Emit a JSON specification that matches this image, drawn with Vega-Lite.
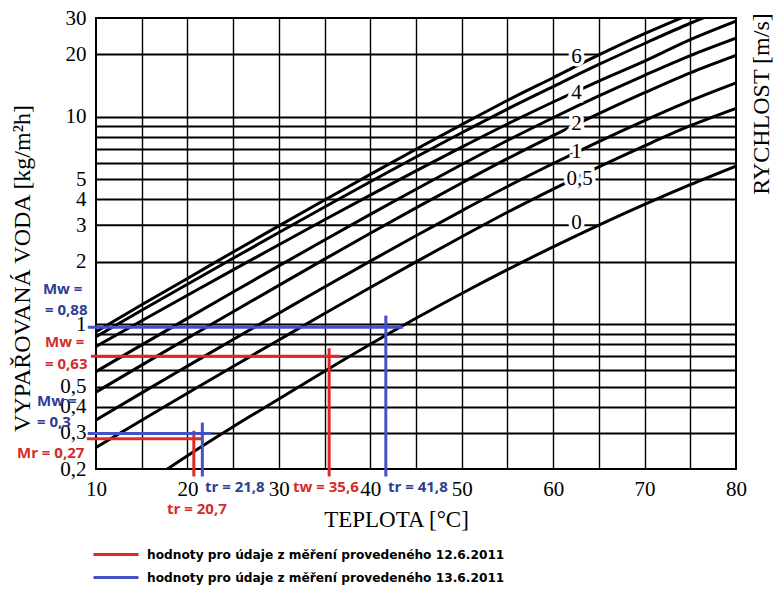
{
  "$schema": "https://vega.github.io/schema/vega-lite/v6.json",
  "width": 640,
  "height": 451,
  "autosize": {"type": "none"},
  "padding": {"left": 96, "top": 18, "right": 39, "bottom": 131},
  "background": "white",
  "config": {"view": {"stroke": "#000", "strokeWidth": 2}, "font": "Liberation Serif"},
  "datasets": {
    "curves": [
      {"c":"6","t":10,"v":0.92},{"c":"6","t":15,"v":1.24},{"c":"6","t":20,"v":1.66},{"c":"6","t":25,"v":2.23},{"c":"6","t":30,"v":2.98},{"c":"6","t":35,"v":3.97},{"c":"6","t":40,"v":5.28},{"c":"6","t":45,"v":6.98},{"c":"6","t":50,"v":9.18},{"c":"6","t":55,"v":12.0},{"c":"6","t":60,"v":15.45},{"c":"6","t":65,"v":19.9},{"c":"6","t":70,"v":25.2},{"c":"6","t":75,"v":31.3},{"c":"6","t":80,"v":38.5},
      {"c":"5","t":10,"v":0.87},{"c":"5","t":15,"v":1.166},{"c":"5","t":20,"v":1.558},{"c":"5","t":25,"v":2.078},{"c":"5","t":30,"v":2.766},{"c":"5","t":35,"v":3.673},{"c":"5","t":40,"v":4.861},{"c":"5","t":45,"v":6.4},{"c":"5","t":50,"v":8.385},{"c":"5","t":55,"v":10.91},{"c":"5","t":60,"v":14.0},{"c":"5","t":65,"v":17.9},{"c":"5","t":70,"v":22.6},{"c":"5","t":75,"v":28.3},{"c":"5","t":80,"v":34.6},
      {"c":"4","t":10,"v":0.78},{"c":"4","t":15,"v":1.038},{"c":"4","t":20,"v":1.379},{"c":"4","t":25,"v":1.827},{"c":"4","t":30,"v":2.416},{"c":"4","t":35,"v":3.188},{"c":"4","t":40,"v":4.193},{"c":"4","t":45,"v":5.489},{"c":"4","t":50,"v":7.145},{"c":"4","t":55,"v":9.24},{"c":"4","t":60,"v":11.8},{"c":"4","t":65,"v":14.89},{"c":"4","t":70,"v":18.58},{"c":"4","t":75,"v":23.6},{"c":"4","t":80,"v":29.0},
      {"c":"3","t":10,"v":0.59},{"c":"3","t":15,"v":0.794},{"c":"3","t":20,"v":1.066},{"c":"3","t":25,"v":1.429},{"c":"3","t":30,"v":1.91},{"c":"3","t":35,"v":2.546},{"c":"3","t":40,"v":3.384},{"c":"3","t":45,"v":4.476},{"c":"3","t":50,"v":5.889},{"c":"3","t":55,"v":7.69},{"c":"3","t":60,"v":9.907},{"c":"3","t":65,"v":12.62},{"c":"3","t":70,"v":15.88},{"c":"3","t":75,"v":19.77},{"c":"3","t":80,"v":24.0},
      {"c":"2","t":10,"v":0.47},{"c":"2","t":15,"v":0.634},{"c":"2","t":20,"v":0.855},{"c":"2","t":25,"v":1.148},{"c":"2","t":30,"v":1.539},{"c":"2","t":35,"v":2.058},{"c":"2","t":40,"v":2.743},{"c":"2","t":45,"v":3.639},{"c":"2","t":50,"v":4.8},{"c":"2","t":55,"v":6.284},{"c":"2","t":60,"v":8.12},{"c":"2","t":65,"v":10.36},{"c":"2","t":70,"v":13.08},{"c":"2","t":75,"v":16.31},{"c":"2","t":80,"v":19.8},
      {"c":"1","t":10,"v":0.345},{"c":"1","t":15,"v":0.466},{"c":"1","t":20,"v":0.627},{"c":"1","t":25,"v":0.843},{"c":"1","t":30,"v":1.129},{"c":"1","t":35,"v":1.511},{"c":"1","t":40,"v":2.014},{"c":"1","t":45,"v":2.671},{"c":"1","t":50,"v":3.522},{"c":"1","t":55,"v":4.613},{"c":"1","t":60,"v":5.959},{"c":"1","t":65,"v":7.605},{"c":"1","t":70,"v":9.596},{"c":"1","t":75,"v":11.97},{"c":"1","t":80,"v":14.6},
      {"c":"0,5","t":10,"v":0.254},{"c":"0,5","t":15,"v":0.344},{"c":"0,5","t":20,"v":0.464},{"c":"0,5","t":25,"v":0.625},{"c":"0,5","t":30,"v":0.839},{"c":"0,5","t":35,"v":1.125},{"c":"0,5","t":40,"v":1.503},{"c":"0,5","t":45,"v":1.998},{"c":"0,5","t":50,"v":2.641},{"c":"0,5","t":55,"v":3.467},{"c":"0,5","t":60,"v":4.486},{"c":"0,5","t":65,"v":5.739},{"c":"0,5","t":70,"v":7.254},{"c":"0,5","t":75,"v":9.065},{"c":"0,5","t":80,"v":11.0},
      {"c":"0","t":15,"v":0.165},{"c":"0","t":20,"v":0.232},{"c":"0","t":25,"v":0.32},{"c":"0","t":30,"v":0.435},{"c":"0","t":35,"v":0.593},{"c":"0","t":40,"v":0.8},{"c":"0","t":45,"v":1.067},{"c":"0","t":50,"v":1.406},{"c":"0","t":55,"v":1.832},{"c":"0","t":60,"v":2.36},{"c":"0","t":65,"v":3.006},{"c":"0","t":70,"v":3.784},{"c":"0","t":75,"v":4.71},{"c":"0","t":80,"v":5.79}
    ],
    "partialGrid": [
      {"v": 20, "t1": 10, "t2": 65.1},
      {"v": 3, "t1": 10, "t2": 65.1}
    ],
    "curveLabels": [
      {"lab": "6", "t": 62.55, "v": 19.5},
      {"lab": "4", "t": 62.55, "v": 13.1},
      {"lab": "2", "t": 62.55, "v": 9.23},
      {"lab": "1", "t": 62.55, "v": 6.8},
      {"lab": "0,5", "t": 62.9, "v": 5.0},
      {"lab": "0", "t": 62.55, "v": 3.09}
    ],
    "measure": [
      {"date": "12.6.2011", "t1": 9.45, "t2": 36.7, "v1": 0.7, "v2": 0.7},
      {"date": "12.6.2011", "t1": 35.5, "t2": 35.5, "v1": 0.765, "v2": 0.184},
      {"date": "12.6.2011", "t1": 9.0, "t2": 21.5, "v1": 0.28, "v2": 0.28},
      {"date": "12.6.2011", "t1": 20.7, "t2": 20.7, "v1": 0.306, "v2": 0.184},
      {"date": "13.6.2011", "t1": 9.1, "t2": 43.6, "v1": 0.967, "v2": 0.967},
      {"date": "13.6.2011", "t1": 41.7, "t2": 41.7, "v1": 1.1, "v2": 0.184},
      {"date": "13.6.2011", "t1": 9.1, "t2": 22.65, "v1": 0.297, "v2": 0.297},
      {"date": "13.6.2011", "t1": 21.63, "t2": 21.63, "v1": 0.335, "v2": 0.184}
    ],
    "notes": [
      {"date": "13.6.2011", "txt": "Mw =", "t": 4.2, "v": 1.479},
      {"date": "13.6.2011", "txt": "= 0,88", "t": 4.42, "v": 1.171},
      {"date": "12.6.2011", "txt": "Mw =", "t": 4.42, "v": 0.816},
      {"date": "12.6.2011", "txt": "= 0,63", "t": 4.42, "v": 0.643},
      {"date": "13.6.2011", "txt": "Mw =", "t": 3.55, "v": 0.426},
      {"date": "13.6.2011", "txt": "= 0,3", "t": 3.55, "v": 0.336},
      {"date": "12.6.2011", "txt": "Mr = 0,27", "t": 1.36, "v": 0.239},
      {"date": "13.6.2011", "txt": "tr = 21,8", "t": 21.92, "v": 0.163},
      {"date": "12.6.2011", "txt": "tw = 35,6", "t": 31.55, "v": 0.163},
      {"date": "13.6.2011", "txt": "tr = 41,8", "t": 41.94, "v": 0.163},
      {"date": "12.6.2011", "txt": "tr = 20,7", "t": 17.77, "v": 0.1284}
    ]
  },
  "resolve": {"axis": {"y": "independent"}},
  "layer": [
    {
      "data": {"name": "curves"},
      "mark": {"type": "line", "color": "#000", "strokeWidth": 3, "interpolate": "monotone", "clip": true},
      "encoding": {
        "x": {
          "field": "t", "type": "quantitative",
          "scale": {"domain": [10, 80], "nice": false, "zero": false},
          "axis": {
            "values": [10,15,20,25,30,35,40,45,50,55,60,65,70,75,80],
            "labelExpr": "datum.value % 10 === 0 ? datum.label : ''",
            "grid": true, "gridColor": "#000", "gridWidth": 1.4,
            "gridOpacity": {"condition": {"test": "datum.value == 10 || datum.value == 80", "value": 0}, "value": 1},
            "ticks": false, "domain": false,
            "labelFont": "Liberation Serif", "labelFontSize": 21, "labelColor": "#000",
            "labelPadding": 9, "labelFlush": false, "labelOverlap": false,
            "title": "TEPLOTA [°C]", "titleFont": "Liberation Serif", "titleFontSize": 23,
            "titleFontWeight": "normal", "titleColor": "#000",
            "titleX": 300, "titleY": 50, "titleAlign": "center", "titleBaseline": "middle"
          }
        },
        "y": {
          "field": "v", "type": "quantitative",
          "scale": {"type": "log", "domain": [0.2, 30], "nice": false},
          "axis": {
            "values": [0.2,0.3,0.4,0.5,0.6,0.7,0.8,0.9,1,2,3,4,5,6,7,8,9,10,20,30],
            "labelExpr": "indexof([0.2,0.3,0.4,0.5,1,2,3,4,5,10,20,30], datum.value) >= 0 ? replace(toString(datum.value), '.', ',') : ''",
            "grid": true, "gridColor": "#000", "gridWidth": 1.8,
            "gridOpacity": {"condition": {"test": "datum.value == 0.2 || datum.value == 30 || datum.value == 20 || datum.value == 3", "value": 0}, "value": 1},
            "ticks": false, "domain": false,
            "labelFont": "Liberation Serif", "labelFontSize": 21, "labelColor": "#000",
            "labelPadding": 10, "labelFlush": false, "labelOverlap": false,
            "title": "VYPAŘOVANÁ VODA [kg/m²h]", "titleFont": "Liberation Serif", "titleFontSize": 24,
            "titleFontWeight": "normal", "titleColor": "#000",
            "titleAngle": 270, "titleX": -74, "titleY": 250, "titleAlign": "center", "titleBaseline": "middle"
          }
        },
        "detail": {"field": "c"}
      }
    },
    {
      "data": {"name": "partialGrid"},
      "mark": {"type": "rule", "color": "#000", "strokeWidth": 1.8},
      "encoding": {
        "x": {"field": "t1", "type": "quantitative"},
        "x2": {"field": "t2"},
        "y": {"field": "v", "type": "quantitative", "axis": null}
      }
    },
    {
      "data": {"name": "curveLabels"},
      "mark": {"type": "text", "font": "Liberation Serif", "fontSize": 21, "fill": "white", "stroke": "white", "strokeWidth": 7, "align": "center", "baseline": "middle"},
      "encoding": {
        "x": {"field": "t", "type": "quantitative"},
        "y": {
          "field": "v", "type": "quantitative",
          "axis": {
            "orient": "right", "labels": false, "ticks": false, "domain": false, "grid": false,
            "title": "RYCHLOST [m/s]", "titleFont": "Liberation Serif", "titleFontSize": 24,
            "titleFontWeight": "normal", "titleColor": "#000",
            "titleAngle": 270, "titleX": 25, "titleY": 85.5, "titleAlign": "center", "titleBaseline": "middle"
          }
        },
        "text": {"field": "lab"}
      }
    },
    {
      "data": {"name": "curveLabels"},
      "mark": {"type": "text", "font": "Liberation Serif", "fontSize": 21, "color": "#000", "align": "center", "baseline": "middle"},
      "encoding": {
        "x": {"field": "t", "type": "quantitative"},
        "y": {"field": "v", "type": "quantitative", "axis": null},
        "text": {"field": "lab"}
      }
    },
    {
      "data": {"name": "measure"},
      "mark": {"type": "rule", "strokeWidth": 3},
      "encoding": {
        "x": {"field": "t1", "type": "quantitative"},
        "x2": {"field": "t2"},
        "y": {"field": "v1", "type": "quantitative", "axis": null},
        "y2": {"field": "v2"},
        "color": {
          "field": "date", "type": "nominal",
          "scale": {"domain": ["12.6.2011", "13.6.2011"], "range": ["#E0282B", "#4451C6"]},
          "legend": {
            "orient": "none", "legendX": 8.5, "legendY": 525, "title": null,
            "symbolType": "M-2.25,0H2.25", "symbolSize": 400, "symbolStrokeWidth": 3, "symbolOffset": 0,
            "labelExpr": "'hodnoty pro údaje z měření provedeného ' + datum.label",
            "labelFont": "DejaVu Sans", "labelFontWeight": "bold", "labelFontSize": 12.2, "labelColor": "#000",
            "labelLimit": 1000, "labelOffset": 19.5, "rowPadding": 5, "padding": 0
          }
        }
      }
    },
    {
      "data": {"name": "notes"},
      "transform": [{"filter": "datum.date == '12.6.2011'"}],
      "mark": {"type": "text", "font": "Open Sans", "fontWeight": "bold", "fontSize": 15, "color": "#D42B2B", "align": "left", "baseline": "middle"},
      "encoding": {
        "x": {"field": "t", "type": "quantitative"},
        "y": {"field": "v", "type": "quantitative", "axis": null},
        "text": {"field": "txt"}
      }
    },
    {
      "data": {"name": "notes"},
      "transform": [{"filter": "datum.date == '13.6.2011'"}],
      "mark": {"type": "text", "font": "Open Sans", "fontWeight": "bold", "fontSize": 15, "color": "#2E3D94", "align": "left", "baseline": "middle"},
      "encoding": {
        "x": {"field": "t", "type": "quantitative"},
        "y": {"field": "v", "type": "quantitative", "axis": null},
        "text": {"field": "txt"}
      }
    }
  ]
}
